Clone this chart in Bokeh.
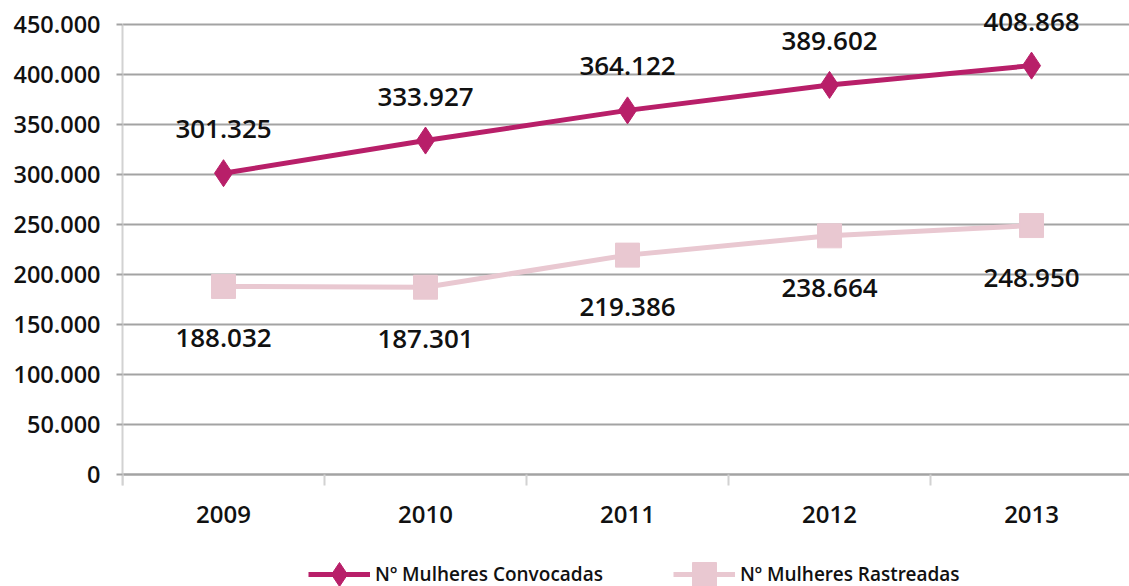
from bokeh.plotting import figure
from bokeh.models import ColumnDataSource, FixedTicker, Legend, LegendItem
from bokeh.core.properties import value
from bokeh.embed import file_html
from bokeh.resources import INLINE

years = ["2009", "2010", "2011", "2012", "2013"]
convocadas = [301325, 333927, 364122, 389602, 408868]
rastreadas = [188032, 187301, 219386, 238664, 248950]
conv_labels = ["301.325", "333.927", "364.122", "389.602", "408.868"]
rast_labels = ["188.032", "187.301", "219.386", "238.664", "248.950"]
y_ticks = [0, 50000, 100000, 150000, 200000, 250000, 300000, 350000, 400000, 450000]
y_tick_labels = ["0", "50.000", "100.000", "150.000", "200.000", "250.000",
                 "300.000", "350.000", "400.000", "450.000"]

FONT = "'Open Sans SemiBold', 'Open Sans'"
MAG = "#b81f69"
PINK = "#e9c8d1"
GRID = "#a3a3a3"
TXT = "#111111"

xs = list(range(len(years)))
src = ColumnDataSource(dict(x=xs, conv=convocadas, rast=rastreadas,
                            cl=conv_labels, rl=rast_labels))

p = figure(width=1129, height=586, output_backend="svg", toolbar_location=None,
           x_range=(-0.5, 4.485), y_range=(-112000, 462000),
           min_border_left=122, min_border_right=0, min_border_top=12,
           min_border_bottom=0)
p.outline_line_color = None
p.xgrid.grid_line_color = None
p.ygrid.grid_line_color = GRID
p.ygrid.grid_line_width = 2
p.ygrid.ticker = FixedTicker(ticks=y_ticks)

# y axis
p.yaxis.ticker = FixedTicker(ticks=y_ticks)
p.yaxis.bounds = (-11000, 450000)
p.yaxis.major_label_overrides = {t: l for t, l in zip(y_ticks, y_tick_labels)}
p.yaxis.major_label_text_font = FONT
p.yaxis.major_label_text_font_size = "23.5px"
p.yaxis.major_label_text_color = TXT
p.yaxis.axis_line_color = "#d2d2d2"
p.yaxis.axis_line_width = 2
p.yaxis.major_tick_line_color = GRID
p.yaxis.major_tick_line_width = 2
p.yaxis.major_tick_out = 6
p.yaxis.major_tick_in = 0
p.yaxis.minor_tick_line_color = None
p.yaxis.major_label_standoff = 16

# x axis, pinned at y = 0
p.xaxis.fixed_location = 0
p.xaxis.ticker = FixedTicker(ticks=xs, minor_ticks=[-0.5, 0.5, 1.5, 2.5, 3.5, 4.5])
p.xaxis.major_label_overrides = {i: y for i, y in zip(xs, years)}
p.xaxis.major_label_text_font = FONT
p.xaxis.major_label_text_font_size = "24px"
p.xaxis.major_label_text_color = TXT
p.xaxis.axis_line_color = GRID
p.xaxis.axis_line_width = 2
p.xaxis.major_tick_out = 0
p.xaxis.major_tick_in = 0
p.xaxis.minor_tick_line_color = "#d2d2d2"
p.xaxis.minor_tick_line_width = 2
p.xaxis.minor_tick_out = 11
p.xaxis.minor_tick_in = 0
p.xaxis.major_label_standoff = 20

l1 = p.line("x", "conv", source=src, line_color=MAG, line_width=5)
m1 = p.scatter("x", "conv", source=src, marker="diamond", size=27,
               fill_color=MAG, line_color=MAG)
l2 = p.line("x", "rast", source=src, line_color=PINK, line_width=5)
m2 = p.scatter("x", "rast", source=src, marker="square", size=24,
               fill_color=PINK, line_color=PINK)

p.text("x", "conv", text="cl", source=src, y_offset=-44,
       text_font=value(FONT), text_font_size="26px",
       text_align="center", text_baseline="middle", text_color=TXT)
p.text("x", "rast", text="rl", source=src, y_offset=52,
       text_font=value(FONT), text_font_size="26px",
       text_align="center", text_baseline="middle", text_color=TXT)

legend = Legend(items=[LegendItem(label="Nº Mulheres Convocadas", renderers=[l1, m1]),
                       LegendItem(label="Nº Mulheres Rastreadas", renderers=[l2, m2])],
                orientation="horizontal", location=(186, -18),
                glyph_width=62, glyph_height=60, label_standoff=5, spacing=70,
                padding=0, margin=0, border_line_color=None,
                background_fill_alpha=0,
                label_text_font=FONT, label_text_font_size="19px",
                label_text_color=TXT, label_height=60)
p.add_layout(legend, "center")

open("out.html", "w").write(file_html(p, INLINE))
